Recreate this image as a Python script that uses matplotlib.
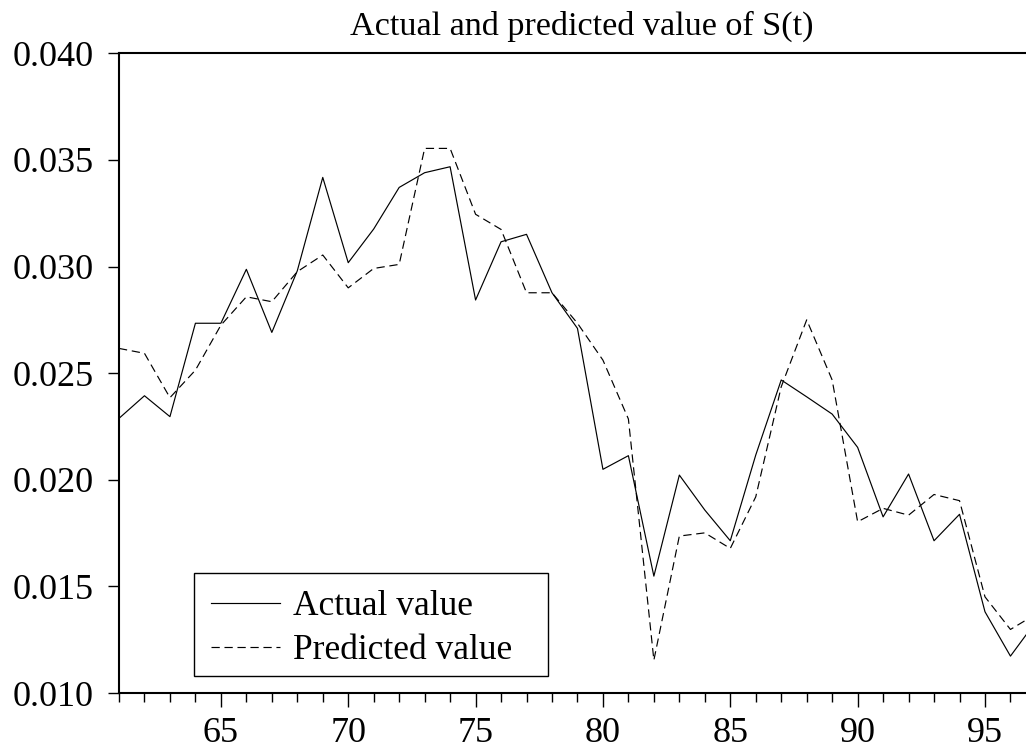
import matplotlib
matplotlib.use("Agg")
import matplotlib.pyplot as plt
from matplotlib.patches import Rectangle
import numpy as np

# yearly series, years 61..97
years = list(range(61, 98))

actual = [0.02288, 0.02394, 0.02296, 0.02734, 0.02734, 0.02987, 0.02691, 0.02980,
          0.03418, 0.03018, 0.03176, 0.03371, 0.03440, 0.03468, 0.02843, 0.03116,
          0.03151, 0.02877, 0.02710, 0.02049, 0.02113, 0.01548, 0.02022, 0.01858,
          0.01714, 0.02116, 0.02468, 0.02389, 0.02308, 0.02152, 0.01826, 0.02027,
          0.01714, 0.01838, 0.01381, 0.01173, 0.01335]

predicted = [0.02616, 0.02593, 0.02385, 0.02514, 0.02725, 0.02858, 0.02835, 0.02976,
             0.03054, 0.02900, 0.02991, 0.03010, 0.03554, 0.03554, 0.03245, 0.03174,
             0.02877, 0.02877, 0.02734, 0.02561, 0.02285, 0.01154, 0.01736, 0.01751,
             0.01678, 0.01920, 0.02436, 0.02750, 0.02468, 0.01803, 0.01866, 0.01834,
             0.01931, 0.01902, 0.01451, 0.01298, 0.01370]

plt.rcParams['font.family'] = ['Liberation Serif', 'DejaVu Serif']
plt.rcParams['font.size'] = 25

W, H = 1026, 752
fig = plt.figure(figsize=(W/100, H/100), dpi=100)
ax = fig.add_axes([119/W, 1 - 693/H, 1 - 119/W, (693 - 53.3)/H])

ax.plot(years, actual, color='black', linestyle='-', linewidth=0.85, label='Actual value')
ax.plot(years, predicted, color='black', linestyle='--', dashes=(7, 4), linewidth=0.85,
        label='Predicted value')

ax.set_xlim(61, 61 + (W - 119)/25.47)
ax.set_ylim(0.010, 0.040)

ax.set_yticks(np.arange(0.010, 0.0401, 0.005))
ax.set_yticklabels(['%.3f' % v for v in np.arange(0.010, 0.0401, 0.005)])
ax.set_xticks([65, 70, 75, 80, 85, 90, 95])
ax.set_xticks(range(61, 97), minor=True)

ax.spines['right'].set_visible(False)
for s in ['left', 'bottom', 'top']:
    ax.spines[s].set_linewidth(1.5)

ax.tick_params(axis='y', direction='out', length=8, width=1.0, pad=10, labelsize=26)
ax.tick_params(axis='x', which='major', direction='out', length=10, width=1.0, pad=7, labelsize=26)
ax.tick_params(axis='x', which='minor', direction='out', length=6.5, width=1.0)
ax.tick_params(axis='y', which='minor', left=False)

fig.text(582/W, 1 - 35/H, 'Actual and predicted value of S(t)', ha='center',
         va='baseline', fontsize=24.6)

# legend entries without their own frame; box drawn separately
leg = ax.legend(loc='lower left', bbox_to_anchor=(211/W, 1 - 667/H),
                bbox_transform=fig.transFigure, frameon=False,
                handlelength=1.95, handletextpad=0.37, borderpad=0,
                labelspacing=0.3, borderaxespad=0, fontsize=25.5)
fig.patches.append(Rectangle((194/W, 1 - 676/H), (548 - 194)/W, (676 - 573)/H,
                             transform=fig.transFigure, fill=False,
                             edgecolor='black', linewidth=1.0, zorder=5))

plt.savefig('out.png', dpi=100)
